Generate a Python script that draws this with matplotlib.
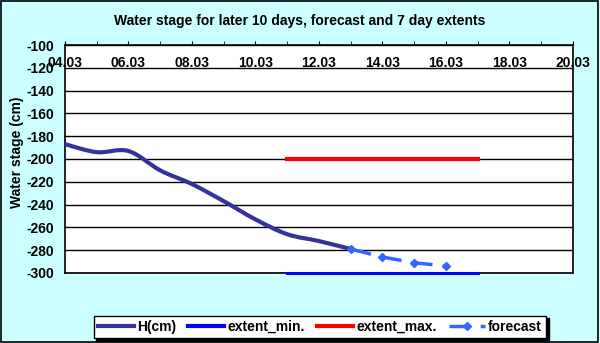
# Water stage chart: last 10 days, forecast and 7 day extents

import numpy as np
import matplotlib.pyplot as plt
from matplotlib.patches import Rectangle, PathPatch
from matplotlib.path import Path
from matplotlib.lines import Line2D

#---------------------- DATA ------------------------#

# day of March
h_days = [4, 5, 6, 7, 8, 9, 10, 11, 12, 13]
h_cm = [-187, -194, -193, -210, -222, -237, -253, -266, -272, -279]

fc_days = [13, 14, 15, 16]
fc_cm = [-279, -286, -291, -294]

ext_days = [11, 17]
ext_min = [-300, -300]
ext_max = [-200, -200]

tick_days = [4, 6, 8, 10, 12, 14, 16, 18, 20]
tick_labels = ["04.03", "06.03", "08.03", "10.03", "12.03", "14.03", "16.03", "18.03", "20.03"]

#---------------------- FUNCTIONS ------------------------#

def smooth_path(x, y):
	# excel-like smoothed line: catmull-rom turned into bezier segments
	x = np.asarray(x, float)
	y = np.asarray(y, float)
	verts = [(x[0], y[0])]
	codes = [Path.MOVETO]
	n = len(x)
	for i in range(n - 1):
		i0 = max(i - 1, 0)
		i3 = min(i + 2, n - 1)
		c1 = (x[i] + (x[i + 1] - x[i0]) / 6, y[i] + (y[i + 1] - y[i0]) / 6)
		c2 = (x[i + 1] - (x[i3] - x[i]) / 6, y[i + 1] - (y[i3] - y[i]) / 6)
		verts += [c1, c2, (x[i + 1], y[i + 1])]
		codes += [Path.CURVE4] * 3
	return Path(verts, codes)

#---------------------- PLOT ------------------------#

plt.rcParams['font.family'] = ['Liberation Sans', 'DejaVu Sans']
plt.rcParams['font.weight'] = 'bold'
plt.rcParams['axes.unicode_minus'] = False

fig = plt.figure(figsize=(6, 3.43), dpi=100, facecolor="#ccffff")
fig.patches.append(Rectangle((0.002, 0.003), 0.995, 0.994, transform=fig.transFigure,
                             fill=False, edgecolor="black", linewidth=1.2))
ax = fig.add_axes([0.1083, 0.2041, 0.8467, 0.6647])
ax.set_facecolor("white")

h_color = "#333399"
ax.add_patch(PathPatch(smooth_path(h_days, h_cm), facecolor="none", edgecolor=h_color,
                       linewidth=3, capstyle="round", zorder=3))
ax.plot(ext_days, ext_min, color="#0000ff", linewidth=2.2, clip_on=False, zorder=3)
ax.plot(ext_days, ext_max, color="#ff0000", linewidth=3, zorder=3)
ax.plot(fc_days, fc_cm, color="#3366ff", linewidth=2.5, linestyle=(0, (6, 3)),
        marker="D", markersize=4, zorder=4)

ax.set_xlim(4, 20)
ax.set_ylim(-300, -100)
ax.set_yticks(np.arange(-300, -99, 20))
ax.set_xticks(tick_days)
ax.set_xticklabels(tick_labels)
ax.set_xticks(range(4, 21), minor=True)
ax.grid(axis="y", color="black", linewidth=1)
ax.tick_params(axis="x", which="both", top=True, bottom=False, labeltop=True,
               labelbottom=False, direction="out", length=3, pad=-21, labelsize=10)
ax.tick_params(axis="y", labelsize=10, length=0, pad=8)
for s in ax.spines.values():
    s.set_linewidth(1.2)

ax.set_ylabel("Water stage (cm)", fontsize=10, fontweight="bold")
ax.yaxis.set_label_coords(-0.081, 0.53)
fig.text(0.5, 0.94, "Water stage for later 10 days, forecast and 7 day extents",
         ha="center", va="center", fontsize=10, fontweight="bold")

handles = [Line2D([], [], color=h_color, linewidth=3),
           Line2D([], [], color="#0000ff", linewidth=3),
           Line2D([], [], color="#ff0000", linewidth=3),
           Line2D([], [], color="#3366ff", linewidth=2.5, linestyle=(0, (6, 3)),
                  marker="D", markersize=4)]
labels = ["H(cm)", "extent_min.", "extent_max.", "forecast"]
leg = fig.legend(handles, labels, loc="center", bbox_to_anchor=(0.533, 0.047),
                 ncol=4, fontsize=10, frameon=True, fancybox=False,
                 shadow={"color": "black", "alpha": 1, "ox": 2, "oy": -2},
                 handlelength=2.6, columnspacing=0.9, handletextpad=0.2, borderpad=0.3)
leg.get_frame().set_edgecolor("black")
leg.get_frame().set_linewidth(1)

plt.savefig("out.png", dpi=100, facecolor=fig.get_facecolor())
